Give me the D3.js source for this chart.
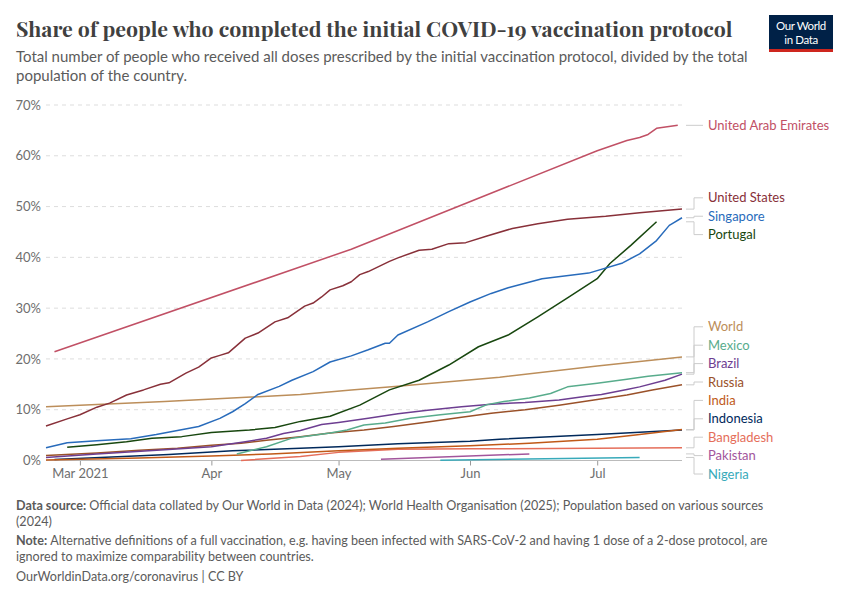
<!DOCTYPE html>
<html><head><meta charset="utf-8">
<script src="https://cdn.jsdelivr.net/npm/d3@7"></script>
<style>
body{margin:0;background:#fff;}
svg{font-family:Lato,"Noto Sans",sans-serif;display:block;}
</style></head><body>
<svg id="chart" width="850" height="600"></svg>
<script>
// ---- data (share of population fully vaccinated, %) ----
const seriesNames = ["United Arab Emirates","United States","Singapore","Portugal","World","Mexico","Brazil","Russia","India","Indonesia","Bangladesh","Pakistan","Nigeria"];
const seriesColors = ["#C15065","#883039","#286BBB","#18470F","#BC8E5A","#58AC8C","#6D3E91","#9A5129","#C05917","#00295B","#E56E5A","#A2559C","#38AABA"];
const uaeData = [["2021-02-23",21.4],["2021-05-04",41.6],["2021-07-01",61.0],["2021-07-08",63.0],["2021-07-11",63.6],["2021-07-13",64.2],["2021-07-15",65.4],["2021-07-20",66.0]];
const usData = [["2021-02-21",6.8],["2021-02-26",8.2],["2021-03-01",9.0],["2021-03-05",10.5],["2021-03-08",11.3],["2021-03-12",12.9],["2021-03-16",13.9],["2021-03-20",15.0],["2021-03-22",15.3],["2021-03-26",17.2],["2021-03-29",18.4],["2021-04-01",20.2],["2021-04-03",20.7],["2021-04-05",21.2],["2021-04-09",24.1],["2021-04-12",25.1],["2021-04-16",27.3],["2021-04-19",28.1],["2021-04-23",30.4],["2021-04-25",31.0],["2021-04-27",32.2],["2021-04-29",33.6],["2021-05-02",34.4],["2021-05-04",35.2],["2021-05-06",36.6],["2021-05-08",37.2],["2021-05-13",39.2],["2021-05-15",39.9],["2021-05-20",41.4],["2021-05-23",41.6],["2021-05-27",42.7],["2021-05-31",42.9],["2021-06-05",44.2],["2021-06-11",45.7],["2021-06-17",46.6],["2021-06-24",47.5],["2021-07-03",48.1],["2021-07-11",48.8],["2021-07-21",49.5]];
const singaporeData = [["2021-02-21",2.5],["2021-02-26",3.5],["2021-03-05",3.9],["2021-03-13",4.3],["2021-03-19",5.1],["2021-03-24",5.9],["2021-03-29",6.7],["2021-04-03",8.3],["2021-04-06",9.6],["2021-04-09",11.2],["2021-04-12",13.0],["2021-04-17",14.6],["2021-04-20",15.8],["2021-04-25",17.5],["2021-04-29",19.4],["2021-05-04",20.6],["2021-05-08",21.8],["2021-05-12",23.1],["2021-05-13",23.1],["2021-05-15",24.7],["2021-05-22",27.3],["2021-05-27",29.3],["2021-06-01",31.2],["2021-06-06",32.9],["2021-06-10",34.0],["2021-06-18",35.8],["2021-06-29",36.9],["2021-07-07",38.9],["2021-07-11",40.7],["2021-07-15",43.3],["2021-07-18",46.3],["2021-07-19",46.8],["2021-07-21",47.8]];
const portugalData = [["2021-02-26",2.6],["2021-03-05",3.1],["2021-03-12",3.7],["2021-03-18",4.4],["2021-03-25",4.7],["2021-04-01",5.5],["2021-04-10",6.0],["2021-04-16",6.5],["2021-04-22",7.7],["2021-04-29",8.7],["2021-05-06",10.9],["2021-05-13",13.9],["2021-05-20",15.8],["2021-05-27",18.8],["2021-06-03",22.4],["2021-06-10",24.7],["2021-06-17",28.3],["2021-06-24",32.0],["2021-07-01",35.8],["2021-07-04",38.8],["2021-07-09",42.4],["2021-07-15",47.0]];
const worldData = [["2021-02-21",10.6],["2021-03-21",11.6],["2021-04-22",13.0],["2021-05-04",13.9],["2021-05-15",14.6],["2021-06-08",16.4],["2021-07-01",18.6],["2021-07-21",20.4]];
const mexicoData = [["2021-04-07",1.3],["2021-04-14",2.7],["2021-04-20",4.4],["2021-04-29",5.4],["2021-05-03",6.0],["2021-05-07",7.0],["2021-05-12",7.4],["2021-05-18",8.3],["2021-05-25",9.0],["2021-06-01",9.6],["2021-06-05",11.0],["2021-06-09",11.6],["2021-06-15",12.3],["2021-06-20",13.2],["2021-06-24",14.5],["2021-07-01",15.2],["2021-07-08",16.0],["2021-07-13",16.6],["2021-07-21",17.3]];
const brazilData = [["2021-02-21",0.6],["2021-03-05",1.3],["2021-03-21",2.1],["2021-04-01",2.7],["2021-04-09",3.7],["2021-04-14",4.4],["2021-04-18",5.3],["2021-04-22",5.9],["2021-04-27",7.1],["2021-05-01",7.5],["2021-05-08",8.3],["2021-05-15",9.2],["2021-05-22",9.9],["2021-05-30",10.6],["2021-06-06",11.1],["2021-06-14",11.4],["2021-06-22",11.9],["2021-06-28",12.6],["2021-07-02",13.0],["2021-07-08",14.0],["2021-07-11",14.5],["2021-07-17",15.8],["2021-07-21",17.0]];
const russiaData = [["2021-02-21",1.0],["2021-03-05",1.5],["2021-03-15",2.0],["2021-03-24",2.4],["2021-04-01",3.0],["2021-04-08",3.4],["2021-04-14",4.0],["2021-04-22",4.7],["2021-04-29",5.4],["2021-05-07",6.0],["2021-05-14",6.7],["2021-05-22",7.6],["2021-05-30",8.5],["2021-06-06",9.3],["2021-06-14",10.0],["2021-06-22",10.9],["2021-07-01",12.0],["2021-07-08",12.9],["2021-07-14",13.9],["2021-07-21",14.9]];
const indiaData = [["2021-02-21",0.1],["2021-03-15",0.5],["2021-04-01",0.9],["2021-04-15",1.3],["2021-05-01",1.9],["2021-05-15",2.4],["2021-06-01",2.9],["2021-06-15",3.4],["2021-07-01",4.2],["2021-07-10",5.0],["2021-07-21",6.1]];
const indonesiaData = [["2021-02-23",0.2],["2021-03-22",1.2],["2021-04-06",1.9],["2021-04-22",2.4],["2021-05-01",2.7],["2021-05-15",3.3],["2021-06-01",3.8],["2021-06-08",4.2],["2021-07-01",5.1],["2021-07-21",6.0]];
const bangladeshData = [["2021-04-08",0.0],["2021-04-22",0.8],["2021-05-01",1.6],["2021-05-15",2.2],["2021-06-01",2.3],["2021-07-21",2.5]];
const pakistanData = [["2021-05-11",0.25],["2021-06-15",1.3]];
const nigeriaData = [["2021-05-25",0.05],["2021-07-11",0.6]];
const seriesData = [uaeData,usData,singaporeData,portugalData,worldData,mexicoData,brazilData,russiaData,indiaData,indonesiaData,bangladeshData,pakistanData,nigeriaData];

const yTicks = [0,10,20,30,40,50,60,70];
const xTickDates = ["2021-03-01","2021-04-01","2021-05-01","2021-06-01","2021-07-01"];
const xTickLabels = ["Mar 2021","Apr","May","Jun","Jul"];
const xDomain = ["2021-02-21","2021-07-21"];

const title = "Share of people who completed the initial COVID-19 vaccination protocol";
const subtitleLines = ["Total number of people who received all doses prescribed by the initial vaccination protocol, divided by the total","population of the country."];

// ---- drawing ----
const parse = d3.timeParse("%Y-%m-%d");
const svg = d3.select("#chart");
const plot = {left:46, right:682, top:105, bottom:460.5};

const x = d3.scaleTime().domain(xDomain.map(parse)).range([plot.left, plot.right]);
const y = d3.scaleLinear().domain([0,70]).range([plot.bottom, plot.top]);

// header
const t = svg.append("text").attr("x",16).attr("y",37)
  .attr("font-family","'Playfair Display','Liberation Serif','DejaVu Serif',serif")
  .attr("font-weight",700).attr("font-size",25).attr("fill","#404040").text(title);
let tl = t.node().getComputedTextLength();
t.attr("font-size", 25*717/tl);

subtitleLines.forEach((s,i)=>{
  svg.append("text").attr("x",16).attr("y",62+i*19).attr("font-size",15).attr("fill","#5b5b5b").text(s);
});

// logo
const logo = svg.append("g");
logo.append("rect").attr("x",769).attr("y",15).attr("width",64).attr("height",37).attr("fill","#002147");
logo.append("rect").attr("x",769).attr("y",49).attr("width",64).attr("height",3).attr("fill","#ce261e");
logo.append("text").attr("x",801).attr("y",30).attr("text-anchor","middle").attr("fill","#fff").attr("font-size",11.5).attr("letter-spacing",-0.4).text("Our World");
logo.append("text").attr("x",801).attr("y",44).attr("text-anchor","middle").attr("fill","#fff").attr("font-size",11.5).attr("letter-spacing",-0.4).text("in Data");

// gridlines + y labels
const gy = svg.append("g").call(d3.axisLeft(y).tickValues(yTicks).tickFormat(d=>d+"%").tickSize(0).tickPadding(5))
  .attr("transform",`translate(${plot.left},0)`);
gy.select(".domain").remove();
gy.selectAll("text").attr("font-size",13).attr("fill","#6e6e6e").attr("font-family","Lato,sans-serif");
svg.append("g").selectAll("line").data(yTicks.filter(d=>d>0)).join("line")
  .attr("x1",plot.left).attr("x2",plot.right).attr("y1",d=>y(d)).attr("y2",d=>y(d))
  .attr("stroke","#dddddd").attr("stroke-dasharray","4,4");

// x axis
const gx = svg.append("g").attr("transform",`translate(0,${plot.bottom})`)
  .call(d3.axisBottom(x).tickValues(xTickDates.map(parse)).tickFormat((d,i)=>xTickLabels[i]).tickSize(5).tickPadding(3));
gx.select(".domain").remove();
gx.selectAll("line").attr("stroke","#999");
gx.selectAll("text").attr("font-size",13).attr("fill","#6e6e6e").attr("font-family","Lato,sans-serif");
svg.append("line").attr("x1",plot.left).attr("x2",plot.right).attr("y1",plot.bottom).attr("y2",plot.bottom)
  .attr("stroke","#bbbbbb").attr("stroke-width",1.2);

// lines
const line = d3.line().x(d=>x(parse(d[0]))).y(d=>y(d[1]));
const order = [12,11,10,9,8,7,6,5,4,3,2,1,0];
order.forEach(i=>{
  svg.append("path").datum(seriesData[i]).attr("d",line).attr("fill","none")
    .attr("stroke",seriesColors[i]).attr("stroke-width",1.5).attr("stroke-linejoin","round");
});

// labels with collision avoidance
const gap = 18.4, lo = 100, hi = 474;
let items = seriesNames.map((n,i)=>({i, target:y(seriesData[i][seriesData[i].length-1][1])}));
items.sort((a,b)=>a.target-b.target);
let clusters = items.map(it=>({items:[it]}));
function layout(c){
  const n=c.items.length, mean=d3.mean(c.items,d=>d.target);
  let top = mean-(n-1)/2*gap;
  if(top<lo) top=lo;
  if(top+(n-1)*gap>hi) top=hi-(n-1)*gap;
  c.top=top; c.bot=top+(n-1)*gap;
}
let merged=true;
while(merged){
  merged=false;
  clusters.forEach(layout);
  for(let k=0;k<clusters.length-1;k++){
    if(clusters[k].bot+gap>clusters[k+1].top+0.01){
      clusters[k].items=clusters[k].items.concat(clusters[k+1].items);
      clusters.splice(k+1,1); merged=true; break;
    }
  }
}
clusters.forEach(c=>c.items.forEach((it,j)=>it.pos=c.top+j*gap));
const lg = svg.append("g");
items.forEach(it=>{
  const x0=plot.right+4, x1=plot.right+21, xm=plot.right+12;
  const p = Math.abs(it.pos-it.target)<1 ? `M${x0},${it.target}H${x1}` : `M${x0},${it.target}H${xm}V${it.pos}H${x1}`;
  lg.append("path").attr("d",p).attr("fill","none").attr("stroke","#cccccc").attr("stroke-width",1);
  lg.append("text").attr("x",plot.right+26).attr("y",it.pos+4.6).attr("font-size",13)
    .attr("fill",seriesColors[it.i]).text(seriesNames[it.i]);
});

// footer
const f = svg.append("g").attr("font-size",12.6).attr("fill","#5b5b5b");
const f1 = f.append("text").attr("x",16).attr("y",510);
f1.append("tspan").attr("font-weight",700).text("Data source: ");
f1.append("tspan").text("Official data collated by Our World in Data (2024); World Health Organisation (2025); Population based on various sources");
f.append("text").attr("x",16).attr("y",526).text("(2024)");
const f2 = f.append("text").attr("x",16).attr("y",545);
f2.append("tspan").attr("font-weight",700).text("Note: ");
f2.append("tspan").text("Alternative definitions of a full vaccination, e.g. having been infected with SARS-CoV-2 and having 1 dose of a 2-dose protocol, are");
f.append("text").attr("x",16).attr("y",561).text("ignored to maximize comparability between countries.");
f.append("text").attr("x",16).attr("y",581).text("OurWorldinData.org/coronavirus | CC BY");
</script>
</body></html>
